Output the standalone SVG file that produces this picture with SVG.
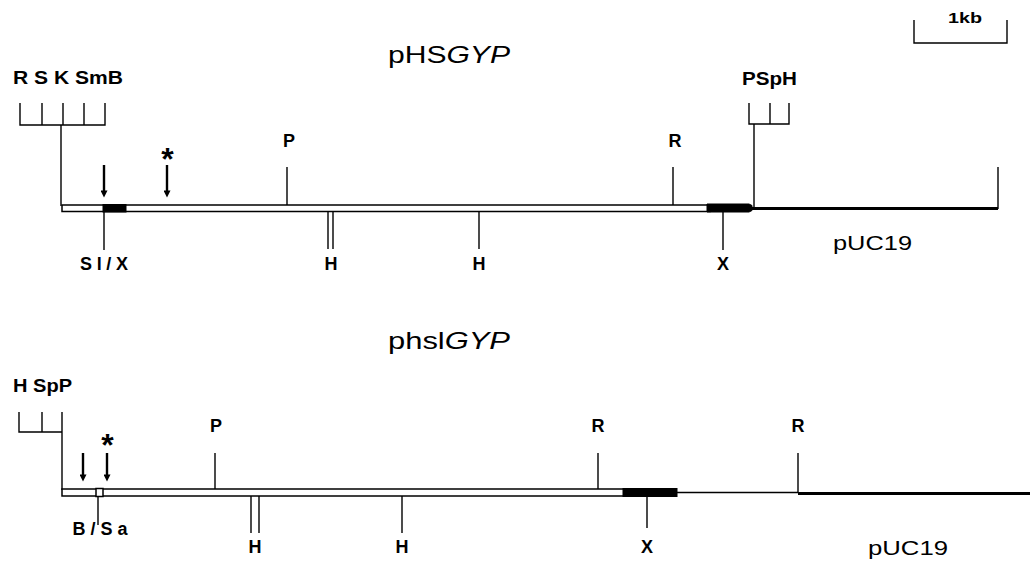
<svg xmlns="http://www.w3.org/2000/svg" width="1030" height="563" viewBox="0 0 1030 563">
  <defs>
    <style>
      .lbl { font-family: "Liberation Sans", Arial, sans-serif; font-weight: bold; font-size: 18px; fill: #000; text-anchor: middle; }
      .lbl-l { font-family: "Liberation Sans", Arial, sans-serif; font-weight: bold; font-size: 18px; fill: #000; }
      .title { font-family: "Liberation Sans", Arial, sans-serif; font-size: 24px; fill: #000; }
      .vec { font-family: "Liberation Sans", Arial, sans-serif; font-size: 21px; fill: #000; }
      .star { font-family: "Liberation Sans", Arial, sans-serif; font-weight: bold; font-size: 32px; fill: #000; text-anchor: middle; }
      .ln { stroke: #000; stroke-width: 1.4; fill: none; }
      .bar { fill: #fff; stroke: #000; stroke-width: 1.5; }
      .blk { fill: #000; stroke: #000; stroke-width: 1; }
      .thick { stroke: #000; stroke-width: 3; fill: none; }
      .arw { stroke: #000; stroke-width: 2.4; fill: none; }
    </style>
    <marker id="tip" viewBox="0 0 10 10" refX="2" refY="5" markerWidth="9" markerHeight="7" orient="auto" markerUnits="userSpaceOnUse">
      <path d="M0 0 L10 5 L0 10 Z" fill="#000"/>
    </marker>
  </defs>

  <rect width="1030" height="563" fill="#fff"/>

  <!-- scale bar -->
  <g id="scale">
    <path class="ln" d="M914 20 V43 H1007 V20"/>
    <text class="lbl" x="965" y="23" style="font-size:14px" textLength="34" lengthAdjust="spacingAndGlyphs">1kb</text>
  </g>

  <!-- ============ pHSGYP ============ -->
  <g id="map-top">
    <text class="title" x="388" y="63" textLength="122" lengthAdjust="spacingAndGlyphs">pHS<tspan font-style="italic">GYP</tspan></text>

    <!-- left polylinker -->
    <g id="polylinker-top-left">
      <text class="lbl-l" x="13" y="84" textLength="110" lengthAdjust="spacingAndGlyphs">R S K SmB</text>
      <path class="ln" d="M20 103 V125 H105 V103 M42 103 V125 M63 103 V125 M84 103 V125 M61 125 V206"/>
    </g>

    <!-- insert bar -->
    <rect class="bar" x="62" y="205" width="648" height="6.5"/>
    <rect class="blk" x="103" y="204.5" width="23" height="7.5"/>
    <path class="blk" d="M707 204 H749 L752 205.5 V210.5 L749 212 H707 Z"/>

    <!-- pUC19 backbone -->
    <path class="thick" d="M752 208.5 H998"/>
    <path class="ln" d="M998 167 V209"/>
    <text class="vec" x="833" y="250" textLength="79" lengthAdjust="spacingAndGlyphs">pUC19</text>

    <!-- right polylinker -->
    <g id="polylinker-top-right">
      <text class="lbl-l" x="742" y="85" textLength="55" lengthAdjust="spacingAndGlyphs">PSpH</text>
      <path class="ln" d="M749 103 V124 H789 V103 M770 103 V124 M754 124 V208"/>
    </g>

    <!-- sites above -->
    <path class="ln" d="M287 167 V205 M673 167 V205"/>
    <text class="lbl" x="289" y="147">P</text>
    <text class="lbl" x="675" y="147">R</text>

    <!-- sites below -->
    <path class="ln" d="M104 212 V250 M328 212 V249 M333 212 V249 M479 212 V249 M723 212 V250"/>
    <text class="lbl" x="104" y="270" textLength="48" lengthAdjust="spacing">Sl/X</text>
    <text class="lbl" x="331" y="270">H</text>
    <text class="lbl" x="479" y="270">H</text>
    <text class="lbl" x="723" y="270">X</text>

    <!-- arrows -->
    <line class="arw" x1="104" y1="165" x2="104" y2="192" marker-end="url(#tip)"/>
    <line class="arw" x1="167" y1="165" x2="167" y2="192" marker-end="url(#tip)"/>
    <text class="star" x="167.5" y="170">*</text>
  </g>

  <!-- ============ phslGYP ============ -->
  <g id="map-bottom">
    <text class="title" x="388" y="349" textLength="122" lengthAdjust="spacingAndGlyphs">phsl<tspan font-style="italic">GYP</tspan></text>

    <!-- left polylinker -->
    <g id="polylinker-bottom-left">
      <text class="lbl-l" x="13" y="392" textLength="59" lengthAdjust="spacingAndGlyphs">H SpP</text>
      <path class="ln" d="M19 412 V432 H62 M42 412 V432 M62 412 V490"/>
    </g>

    <!-- insert bar -->
    <rect class="bar" x="62" y="489" width="563" height="7"/>
    <rect class="bar" x="96" y="488.5" width="7" height="8"/>
    <rect class="blk" x="623" y="488.5" width="54" height="8"/>

    <!-- vector line -->
    <path class="ln" d="M677 492.5 H798"/>
    <path class="thick" d="M798 493.5 H1030"/>
    <text class="vec" x="868" y="555" textLength="80" lengthAdjust="spacingAndGlyphs">pUC19</text>

    <!-- sites above -->
    <path class="ln" d="M215 453 V489 M598 453 V489 M798 453 V493"/>
    <text class="lbl" x="216" y="432">P</text>
    <text class="lbl" x="598" y="432">R</text>
    <text class="lbl" x="798" y="432">R</text>

    <!-- sites below -->
    <path class="ln" d="M98 496.5 V525 M251 496 V533 M259 496 V533 M402 496 V533 M647 496.5 V528"/>
    <text class="lbl" x="100" y="535" textLength="55" lengthAdjust="spacing">B/Sa</text>
    <text class="lbl" x="255" y="553">H</text>
    <text class="lbl" x="402" y="553">H</text>
    <text class="lbl" x="647" y="553">X</text>

    <!-- arrows -->
    <line class="arw" x1="83" y1="453" x2="83" y2="476" marker-end="url(#tip)"/>
    <line class="arw" x1="107" y1="453" x2="107" y2="476" marker-end="url(#tip)"/>
    <text class="star" x="107.5" y="456">*</text>
  </g>
</svg>
